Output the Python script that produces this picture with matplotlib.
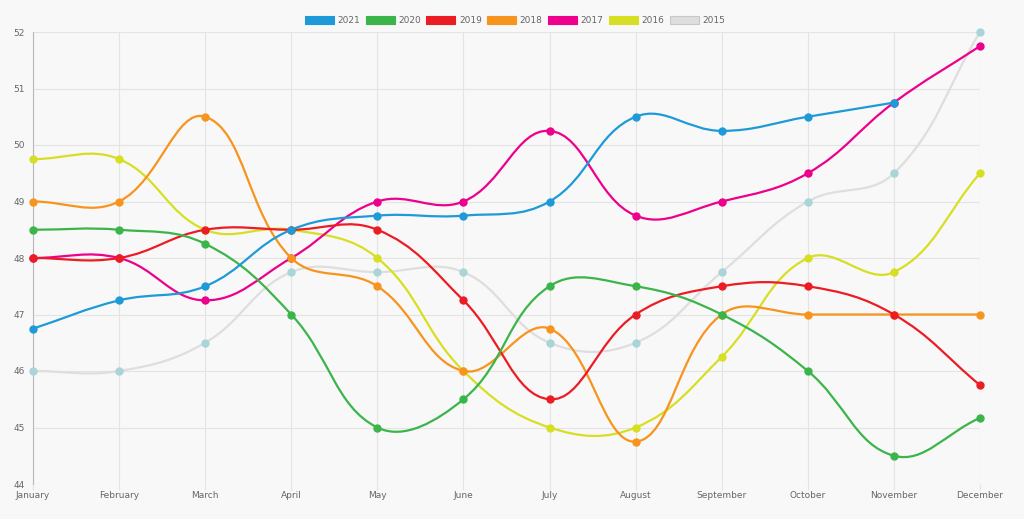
import numpy as np
import matplotlib
matplotlib.use("Agg")
import matplotlib.pyplot as plt
from matplotlib.path import Path
from matplotlib.patches import PathPatch, Patch

months = ["January", "February", "March", "April", "May", "June", "July",
          "August", "September", "October", "November", "December"]

y2021 = [46.75, 47.25, 47.5, 48.5, 48.75, 48.75, 49, 50.5, 50.25, 50.5, 50.75, None]
y2020 = [48.5, 48.5, 48.25, 47, 45, 45.5, 47.5, 47.5, 47, 46, 44.5, 45.17]
y2019 = [48, 48, 48.5, 48.5, 48.5, 47.25, 45.5, 47, 47.5, 47.5, 47, 45.75]
y2018 = [49, 49, 50.5, 48, 47.5, 46, 46.75, 44.75, 47, 47, 47, 47]
y2017 = [48, 48, 47.25, 48, 49, 49, 50.25, 48.75, 49, 49.5, 50.75, 51.75]
y2016 = [49.75, 49.75, 48.5, 48.5, 48, 46, 45, 45, 46.25, 48, 47.75, 49.5]
y2015 = [46, 46, 46.5, 47.75, 47.75, 47.75, 46.5, 46.5, 47.75, 49, 49.5, 52]

series = [
    ("2021", y2021, "#1e9ad8", "#1e9ad8"),
    ("2020", y2020, "#3bb54a", "#3bb54a"),
    ("2019", y2019, "#ec1c24", "#ec1c24"),
    ("2018", y2018, "#f7941d", "#f7941d"),
    ("2017", y2017, "#ec008c", "#ec008c"),
    ("2016", y2016, "#d7df23", "#d7df23"),
    ("2015", y2015, "#dedede", "#a9d4d8"),
]

bg = "#f8f8f8"
fig = plt.figure(figsize=(10.24, 5.19), dpi=100, facecolor=bg)
ax = fig.add_axes([33 / 1024, 35 / 519, 947 / 1024, 452 / 519], facecolor=bg)
ax.set_xlim(0, 11)
ax.set_ylim(44, 52)

# pixels per data unit, for chart.js-like spline tension
sx = 947 / 11
sy = 452 / 8
tension = 0.4


def spline_path(xs, ys):
    n = len(xs)
    verts = [(xs[0], ys[0])]
    codes = [Path.MOVETO]
    cps = []
    for i in range(n):
        p = np.array([xs[i], ys[i]])
        prev = np.array([xs[i - 1], ys[i - 1]]) if i > 0 else p
        nxt = np.array([xs[i + 1], ys[i + 1]]) if i < n - 1 else p
        d01 = np.hypot((p[0] - prev[0]) * sx, (p[1] - prev[1]) * sy)
        d12 = np.hypot((nxt[0] - p[0]) * sx, (nxt[1] - p[1]) * sy)
        tot = d01 + d12
        s01 = d01 / tot if tot else 0
        s12 = d12 / tot if tot else 0
        c1 = p - tension * s01 * (nxt - prev)
        c2 = p + tension * s12 * (nxt - prev)
        c1[1] = np.clip(c1[1], 44, 52)
        c2[1] = np.clip(c2[1], 44, 52)
        cps.append((c1, c2))
    for i in range(1, n):
        verts += [tuple(cps[i - 1][1]), tuple(cps[i][0]), (xs[i], ys[i])]
        codes += [Path.CURVE4] * 3
    return Path(verts, codes)


handles = []
for k, (name, vals, lc, mc) in enumerate(series):
    xs = [i for i, v in enumerate(vals) if v is not None]
    ys = [v for v in vals if v is not None]
    z = 10 - k
    ax.add_patch(PathPatch(spline_path(xs, ys), facecolor="none", edgecolor=lc,
                           lw=1.6, zorder=z, capstyle="round", clip_on=False))
    ax.plot(xs, ys, "o", color=mc, ms=5, mec=mc, zorder=z + 0.5, clip_on=False)
    handles.append(Patch(facecolor=lc, edgecolor="#c8c8c8" if name == "2015" else lc,
                         lw=0.8, label=name))

ax.set_xticks(range(12))
ax.set_xticklabels(months)
ax.set_yticks(range(44, 53))
ax.grid(True, color="#e4e4e4", lw=0.8)
ax.set_axisbelow(True)
for s in ["top", "right", "bottom"]:
    ax.spines[s].set_visible(False)
ax.spines["left"].set_color("#b8b8b8")
ax.spines["left"].set_linewidth(0.8)
ax.tick_params(axis="both", colors="#e4e4e4", labelcolor="#666666", labelsize=6.5)
ax.tick_params(axis="x", length=4, pad=1)
ax.tick_params(axis="y", length=0, pad=6)

fig.legend(handles=handles, loc="upper center", bbox_to_anchor=(0.503, 0.985), ncol=7,
           frameon=False, fontsize=6.5, handlelength=3.2, handleheight=1.0,
           columnspacing=0.6, handletextpad=0.4, labelcolor="#666666")

fig.savefig("out.png", dpi=100, facecolor=bg)
